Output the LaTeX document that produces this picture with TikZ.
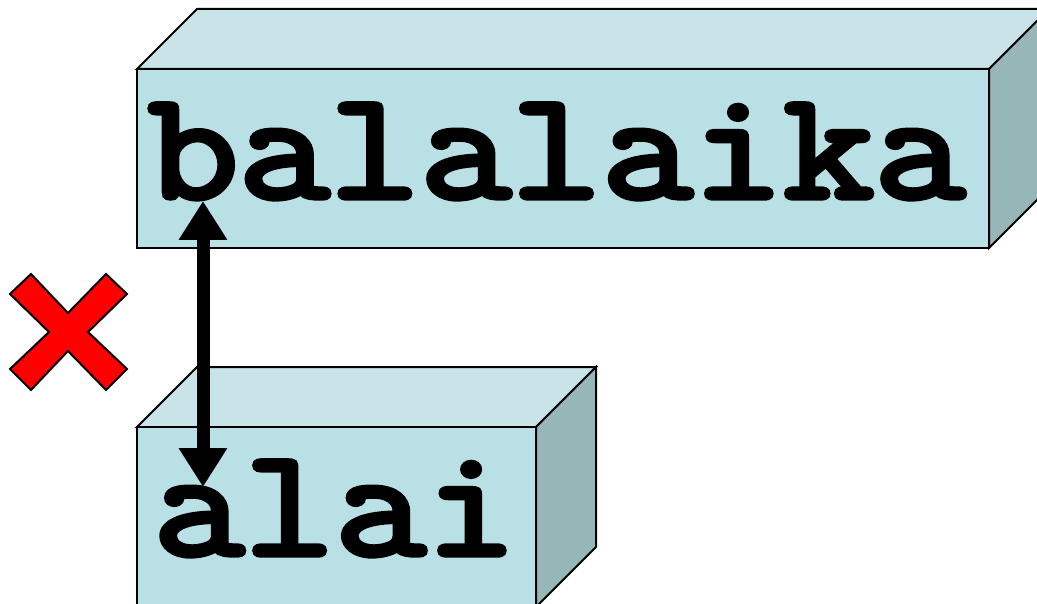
\documentclass[tikz,border=0pt]{standalone}
\usepackage{fontspec}
\usetikzlibrary{arrows.meta}
\newfontfamily\heavymono{Latin Modern Mono}[FakeBold=3.5]
\definecolor{faceFront}{RGB}{185,224,228}
\definecolor{faceTop}{RGB}{200,228,232}
\definecolor{faceSide}{RGB}{150,182,184}
\definecolor{crossRed}{RGB}{255,0,0}
\newcommand{\widemono}[1]{\scalebox{1.145}[1]{#1}}
\tikzset{
  front/.style={fill=faceFront,draw=black,line width=2pt,line join=miter},
  topface/.style={fill=faceTop,draw=black,line width=2pt,line join=miter},
  sideface/.style={fill=faceSide,draw=black,line width=2pt,line join=miter},
  word/.style={inner sep=0pt,anchor=base,font=\heavymono\fontsize{154}{154}\selectfont},
  link/.style={line width=13pt,{Triangle[length=39pt,width=46pt]}-{Triangle[length=39pt,width=46pt]}},
  crossmark/.style={fill=crossRed,draw=black,line width=2pt,line join=miter}
}
\begin{document}
\begin{tikzpicture}[x=1pt,y=-1pt]
\useasboundingbox (0,0) rectangle (1037,604);
\clip (0,0) rectangle (1037,604);
% upper block
\draw[topface] (137,69) -- (197,9) -- (1049,9) -- (989,69) -- cycle;
\draw[sideface] (989,69) -- (1049,9) -- (1049,188) -- (989,248) -- cycle;
\draw[front] (137,69) rectangle (989,248);
\node[word] (long) at (556.5,198) {\widemono{balalaika}};
% lower block
\draw[topface] (137,427) -- (197,367) -- (596,367) -- (536,427) -- cycle;
\draw[sideface] (536,427) -- (596,367) -- (596,547) -- (536,607) -- cycle;
\draw[front] (137,427) rectangle (536,620);
\node[word] (short) at (335,555) {\widemono{alai}};
% alignment arrow
\coordinate (upEnd) at (203,201);
\coordinate (downEnd) at (203,487);
\draw[link] (upEnd) -- (downEnd);
% red cross
\draw[crossmark] (68,313) -- (106,274) -- (127,294) -- (88,332) -- (127,369)
  -- (106,390) -- (68,351) -- (31,390) -- (10,369) -- (49,332) -- (10,294)
  -- (31,274) -- cycle;
\end{tikzpicture}
\end{document}
